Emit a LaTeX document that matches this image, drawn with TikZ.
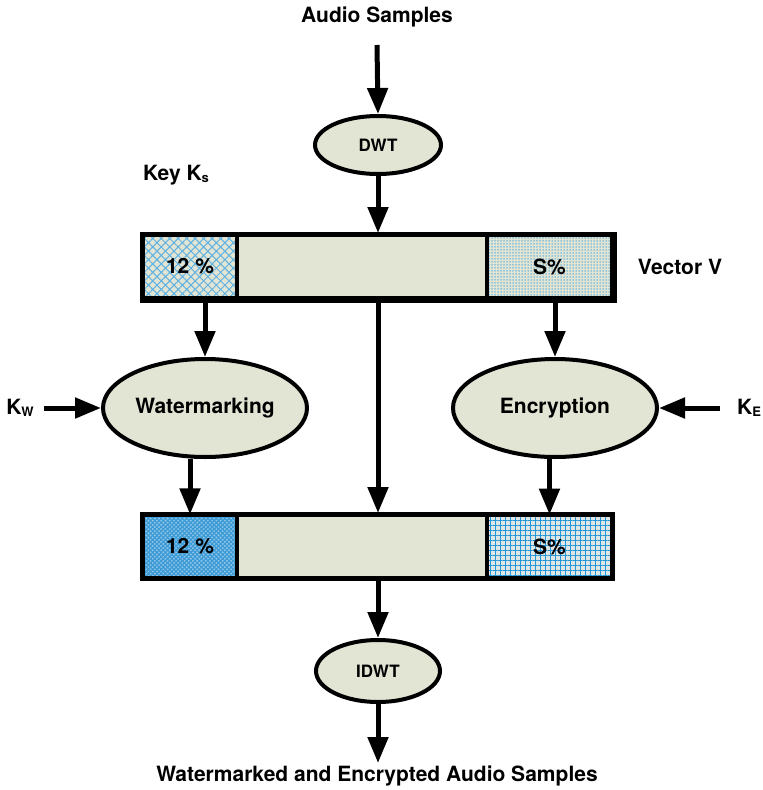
\documentclass[tikz,border=0pt]{standalone}
\usepackage{fontspec}
\setmainfont{TeX Gyre Heros}
\usetikzlibrary{arrows.meta,patterns.meta,shapes.geometric}

\definecolor{panel}{RGB}{226,228,212}
\definecolor{hatchblue}{RGB}{95,178,226}
\definecolor{dotblue}{RGB}{70,165,220}
\definecolor{deepblue}{RGB}{60,155,215}
\definecolor{paleblue}{RGB}{150,200,232}
\definecolor{gridblue}{RGB}{35,150,215}
\definecolor{gridback}{RGB}{222,230,230}

% small subscript used by the key labels
\newcommand\keysub[1]{\raisebox{-2.5pt}{\fontsize{13}{13}\selectfont #1}}

\tikzset{
  lbl/.style={font=\bfseries\fontsize{21}{25}\selectfont, inner sep=0pt},
  proc/.style={ellipse, draw, line width=4pt, fill=panel, inner sep=0pt,
               font=\bfseries\fontsize{21}{25}\selectfont},
  cell/.style={rectangle, draw, line width=4pt, inner sep=0pt,
               minimum height=63pt, font=\bfseries\fontsize{21}{25}\selectfont},
  plain/.style={cell, fill=panel},
  flow/.style={line width=5pt, -{Triangle[length=26pt,width=20pt]}},
}

\begin{document}
\begin{tikzpicture}[x=1pt,y=-1pt]
\useasboundingbox (0,0) rectangle (763,790);

% labels
\node[lbl] (src) at (377,17) {Audio Samples};
\node[lbl] (key) at (176,175) {Key K\keysub{s}};
\node[lbl] (vec) at (680,267) {Vector V};
\node[lbl] (kw) at (20,408) {K\keysub{W}};
\node[lbl] (ke) at (749,408) {K\keysub{E}};
\node[lbl] (dst) at (377,776) {Watermarked and Encrypted Audio Samples};

% transforms
\node[proc, minimum width=126pt, minimum height=58pt,
      font=\bfseries\fontsize{17}{20}\selectfont] (dwt) at (378,145) {DWT};
\node[proc, minimum width=124pt, minimum height=62pt,
      font=\bfseries\fontsize{17}{20}\selectfont] (idwt) at (378,671) {IDWT};
\node[proc, minimum width=204pt, minimum height=98pt] (wm) at (205,408) {Watermarking};
\node[proc, minimum width=204pt, minimum height=98pt] (enc) at (555,408) {Encryption};

% vector V before embedding
\node[cell, minimum width=94pt, preaction={fill=panel},
      pattern={Hatch[angle=45,distance=6pt,line width=1pt]}, pattern color=hatchblue]
      (tl) at (190,266.5) {12 \%};
\node[plain, minimum width=250pt] (tm) at (362,266.5) {};
\node[cell, minimum width=125pt, preaction={fill=panel},
      pattern={Dots[distance=3pt,radius=0.75pt]}, pattern color=dotblue]
      (tr) at (549.5,266.5) {S\%};
\draw[line width=5pt] (tl.north west) rectangle (tr.south east);

% vector V after embedding
\node[cell, minimum width=94pt, preaction={fill=paleblue},
      pattern={Hatch[angle=45,distance=3pt,line width=1.3pt]}, pattern color=deepblue]
      (bl) at (190,546.5) {12 \%};
\node[plain, minimum width=250pt] (bm) at (362,546.5) {};
\node[cell, minimum width=125pt, preaction={fill=gridback},
      pattern={Hatch[angle=0,distance=5pt,line width=0.8pt]}, pattern color=gridblue]
      (br) at (549.5,546.5) {S\%};
\draw[line width=5pt] (bl.north west) rectangle (br.south east);

% flow
\coordinate (in) at (377,45);
\coordinate (out) at (378,763);
\draw[flow] (in) -- (dwt.north);
\draw[flow] (dwt.south) -- (tm.north -| dwt.south);
\draw[flow] (tm.south -| dwt.south) -- (bm.north -| dwt.south);
\draw[flow] (tl.south -| wm.north) -- (wm.north);
\draw[flow] (tr.south -| enc.north) -- (enc.north);
\draw[flow] (wm.south -| bl.north) -- (bl.north);
\draw[flow] (enc.south -| br.north) -- (br.north);
\draw[flow] ([xshift=10pt]kw.east) -- (wm.west);
\draw[flow] ([xshift=-17pt]ke.west) -- (enc.east);
\draw[flow] (bm.south -| idwt.north) -- (idwt.north);
\draw[flow] (idwt.south) -- (out);
\end{tikzpicture}
\end{document}
